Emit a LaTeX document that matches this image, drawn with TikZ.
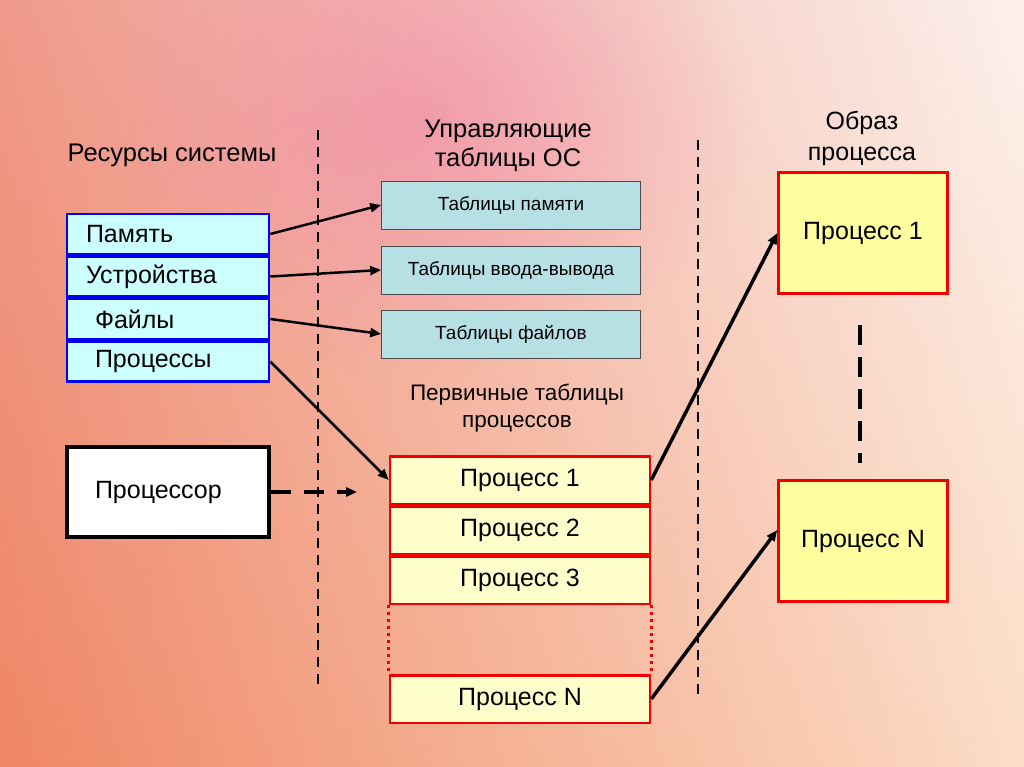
\documentclass[tikz,border=0pt]{standalone}
\usepackage{fontspec}
\setmainfont{Liberation Sans}
\usetikzlibrary{positioning,arrows.meta,fadings}
\tikzfading[name=blobfade, inner color=transparent!0, outer color=transparent!100]
\definecolor{bgL}{RGB}{234,120,100}
\definecolor{bgM}{RGB}{242,180,182}
\definecolor{bgR}{RGB}{251,236,230}
\definecolor{bgPink}{RGB}{240,130,170}
\definecolor{resfill}{RGB}{204,255,255}
\definecolor{resblue}{RGB}{0,0,240}
\definecolor{tblfill}{RGB}{182,224,228}
\definecolor{procfill}{RGB}{255,255,204}
\definecolor{imgfill}{RGB}{255,255,160}
\definecolor{boxred}{RGB}{240,0,0}
\tikzset{
  res/.style={draw=resblue, line width=2.5pt, fill=resfill, minimum height=40pt,
    text width=164pt, inner xsep=19pt, align=left, font=\fontsize{25}{29}\selectfont},
  tbl/.style={draw=gray!60!black, line width=0.6pt, fill=tblfill, minimum width=259pt,
    minimum height=48pt, font=\fontsize{19}{22}\selectfont},
  prow/.style={draw=boxred, line width=2.5pt, fill=procfill, minimum width=260pt,
    minimum height=47.5pt, font=\fontsize{25}{29}\selectfont},
  img/.style={draw=boxred, line width=2.5pt, fill=imgfill, minimum width=169pt,
    minimum height=121pt, font=\fontsize{25}{29}\selectfont},
  head/.style={align=center, font=\fontsize{25.5}{29}\selectfont},
  arr/.style={-{Triangle[length=11pt,width=9pt]}, line width=2.5pt},
  dots/.style={boxred, line width=3pt, dash pattern=on 3pt off 4pt},
}
\begin{document}
\begin{tikzpicture}[x=1pt, y=-1pt]
  \useasboundingbox (0,0) rectangle (1024,767);
  % background
  \shade[left color=bgL, middle color=bgM, right color=bgR] (0,0) rectangle (1024,767);
  \shade[top color=white, bottom color=orange!60, opacity=0.25] (0,0) rectangle (1024,767);
  \fill[bgPink, path fading=blobfade, opacity=0.55] (420,120) ellipse [x radius=330pt, y radius=260pt];

  % headings
  \node[head] (hres) at (172,155) {Ресурсы системы};
  \node[head] (htbl) at (508,146) {Управляющие\\таблицы ОС};
  \node[head, font=\fontsize{22.5}{27}\selectfont] (hprim) at (517,408) {Первичные таблицы\\процессов};
  \node[head, font=\fontsize{25}{31}\selectfont] (himg) at (862,138) {Образ\\процесса};

  % separators
  \draw[line width=2pt, dash pattern=on 10pt off 7pt] (318,130) -- (318,690);
  \draw[line width=2pt, dash pattern=on 10pt off 7pt] (698,140) -- (698,697);

  % system resources
  \node[res] (mem) at (168,234) {Память};
  \node[res, below=0pt of mem] (dev) {Устройства};
  \node[res, below=0pt of dev] (fil) {\hspace{9pt}Файлы};
  \node[res, below=0pt of fil] (prc) {\hspace{9pt}Процессы};

  % processor
  \node[draw, line width=4pt, fill=white, minimum height=90pt, text width=146pt,
    inner xsep=28pt, align=left, font=\fontsize{25}{29}\selectfont] (cpu) at (168,492) {Процессор};
  \coordinate (cpuend) at (357,492);

  % OS tables
  \node[tbl] (tmem) at (511,205) {Таблицы памяти};
  \node[tbl] (tdev) at (511,270) {Таблицы ввода-вывода};
  \node[tbl] (tfil) at (511,334) {Таблицы файлов};

  % primary process tables
  \node[prow] (p1) at (520,480) {Процесс 1};
  \node[prow, below=0pt of p1] (p2) {Процесс 2};
  \node[prow, below=0pt of p2] (p3) {Процесс 3};
  \node[prow] (pN) at (520,699) {Процесс N};
  \draw[dots] (p3.south west) -- (pN.north west);
  \draw[dots] (p3.south east) -- (pN.north east);

  % process images
  \node[img] (img1) at (863,233) {Процесс 1};
  \node[img] (imgN) at (863,541) {Процесс N};
  \draw[line width=4.5pt, dash pattern=on 20pt off 12pt] (860,325) -- (860,463);

  % connectors
  \draw[arr] (mem.east) -- (tmem.west);
  \draw[arr] (dev.east) -- (tdev.west);
  \draw[arr] (fil.east) -- (tfil.west);
  \draw[arr] (prc.east) -- (p1.west);
  \draw[arr, line width=4pt, dash pattern=on 20pt off 13pt] (cpu.east) -- (cpuend);
  \draw[arr, line width=3.5pt] (p1.east) -- (img1.west);
  \draw[arr, line width=3.5pt] (pN.east) -- ([yshift=11pt]imgN.west);
\end{tikzpicture}
\end{document}
